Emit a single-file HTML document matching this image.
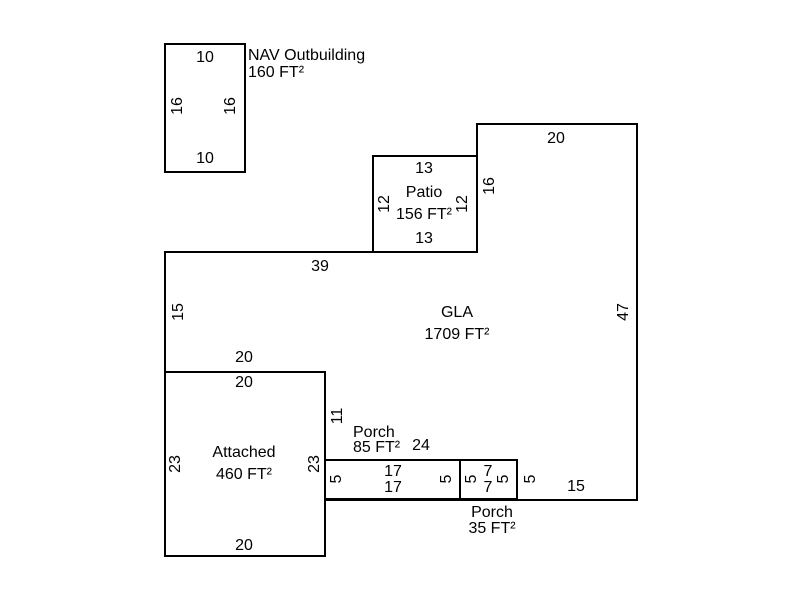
<html><body style="margin:0;background:#fff">
<svg width="800" height="600" xmlns="http://www.w3.org/2000/svg" font-family="Liberation Sans, sans-serif" font-size="16" fill="#000">
<g fill="none" stroke="#000" stroke-width="2">
<rect x="165" y="44" width="80" height="128"/>
<rect x="373" y="156" width="104" height="96"/>
<polyline points="165,372 165,252 373,252"/>
<polyline points="477,156 477,124 637,124 637,500 325,500"/>
<rect x="165" y="372" width="160" height="184"/>
<rect x="325" y="460" width="135" height="39"/>
<rect x="460" y="460" width="57" height="39"/>
</g>
<g text-anchor="middle">
<text x="205" y="62">10</text>
<text x="205" y="163">10</text>
<text x="424" y="173">13</text>
<text x="424" y="243">13</text>
<text x="424" y="197">Patio</text>
<text x="424" y="219">156 FT²</text>
<text x="556" y="143">20</text>
<text x="320" y="271">39</text>
<text x="457" y="317">GLA</text>
<text x="457" y="339">1709 FT²</text>
<text x="244" y="362">20</text>
<text x="244" y="387">20</text>
<text x="244" y="457">Attached</text>
<text x="244" y="479">460 FT²</text>
<text x="244" y="550">20</text>
<text x="421" y="450">24</text>
<text x="393" y="476">17</text>
<text x="393" y="492">17</text>
<text x="488" y="476">7</text>
<text x="488" y="492">7</text>
<text x="576" y="491">15</text>
<text x="492" y="517">Porch</text>
<text x="492" y="533">35 FT²</text>
</g>
<text x="353" y="437">Porch</text>
<text x="353" y="452">85 FT²</text>
<text x="248" y="60">NAV Outbuilding</text>
<text x="248" y="77">160 FT²</text>
<g text-anchor="middle">
<text transform="translate(182,106) rotate(-90)">16</text>
<text transform="translate(235,106) rotate(-90)">16</text>
<text transform="translate(389,204) rotate(-90)">12</text>
<text transform="translate(467,204) rotate(-90)">12</text>
<text transform="translate(494,186) rotate(-90)">16</text>
<text transform="translate(628,312) rotate(-90)">47</text>
<text transform="translate(183,312) rotate(-90)">15</text>
<text transform="translate(342,416) rotate(-90)">11</text>
<text transform="translate(180,464) rotate(-90)">23</text>
<text transform="translate(319,464) rotate(-90)">23</text>
<text transform="translate(341,479) rotate(-90)">5</text>
<text transform="translate(451,479) rotate(-90)">5</text>
<text transform="translate(476,479) rotate(-90)">5</text>
<text transform="translate(508,479) rotate(-90)">5</text>
<text transform="translate(535,479) rotate(-90)">5</text>
</g>
</svg>
</body></html>
